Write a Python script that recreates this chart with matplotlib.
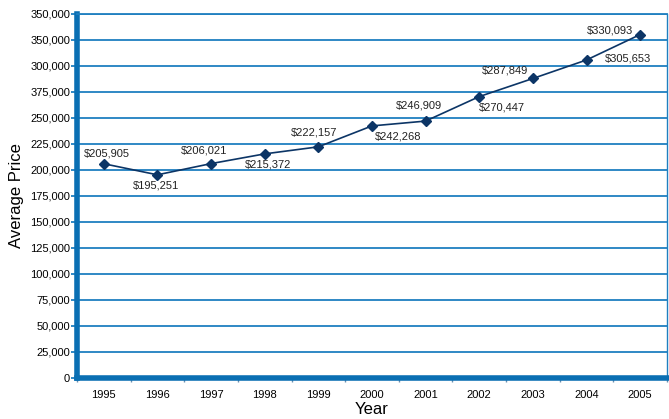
import matplotlib
matplotlib.use('Agg')
import matplotlib.pyplot as plt
import numpy as np

years = ['1995', '1996', '1997', '1998', '1999', '2000', '2001', '2002', '2003', '2004', '2005']
prices = [205905, 195251, 206021, 215372, 222157, 242268, 246909, 270447, 287849, 305653, 330093]
price_labels = ['$205,905', '$195,251', '$206,021', '$215,372', '$222,157', '$242,268',
                '$246,909', '$270,447', '$287,849', '$305,653', '$330,093']
ytick_values = [0, 25000, 50000, 75000, 100000, 125000, 150000, 175000,
                200000, 225000, 250000, 275000, 300000, 325000, 350000]
ytick_labels = ['0', '25,000', '50,000', '75,000', '100,000', '125,000', '150,000', '175,000',
                '200,000', '225,000', '250,000', '375,000', '300,000', '350,000', '350,000']

# label placement (offset in points, horizontal alignment)
label_pos = [((2, 7.5), 'center'), ((-1, -8), 'center'), ((-5, 9.5), 'center'),
             ((2.5, -8), 'center'), ((-3, 10), 'center'), ((18.5, -7.5), 'center'),
             ((-4.5, 11), 'center'), ((16.5, -8), 'center'), ((-20, 6), 'center'),
             ((13, 1), 'left'), ((-5, 3), 'right')]

plt.rcParams['font.family'] = ['Liberation Sans', 'DejaVu Sans']

fig = plt.figure(figsize=(6.69, 4.19), dpi=100)
ax = fig.add_axes([0.115, 0.098, 0.882, 0.869])

blue = '#1f7fc0'
navy = '#0c3566'

x = np.arange(len(years))
ax.set_xlim(-0.5, len(years) - 0.5)
ax.set_ylim(0, 350000)

ax.set_yticks(ytick_values)
ax.set_yticklabels(ytick_labels, fontsize=8)
ax.yaxis.grid(True, color=blue, linewidth=1.3)
ax.set_axisbelow(True)

ax.set_xticks(x)
ax.set_xticklabels(years, fontsize=8)
ax.set_xticks(np.arange(-0.5, len(years)), minor=True)
ax.tick_params(axis='x', which='major', length=0, pad=9)
ax.tick_params(axis='x', which='minor', length=3, color='#6a8fb0', width=1)
ax.tick_params(axis='y', length=4, color=blue, width=1.3, pad=1)

ax.spines['left'].set_color('#0a6fb3')
ax.spines['left'].set_linewidth(4)
ax.spines['bottom'].set_color('#0a6fb3')
ax.spines['bottom'].set_linewidth(4)
ax.spines['right'].set_color(blue)
ax.spines['right'].set_linewidth(1)
ax.spines['top'].set_color(blue)
ax.spines['top'].set_linewidth(1.3)

ax.plot(x, prices, color=navy, linewidth=1.2, marker='D', markersize=5,
        markerfacecolor=navy, markeredgecolor=navy)

for i, p in enumerate(prices):
    off, ha = label_pos[i]
    ax.annotate(price_labels[i], (x[i], p), xytext=off, textcoords='offset points',
                ha=ha, va='center', fontsize=8, color='#222222')

ax.set_ylabel('Average Price', fontsize=12, labelpad=4)
ax.set_xlabel('Year', fontsize=12, labelpad=1)

fig.savefig('out.png', dpi=100)
